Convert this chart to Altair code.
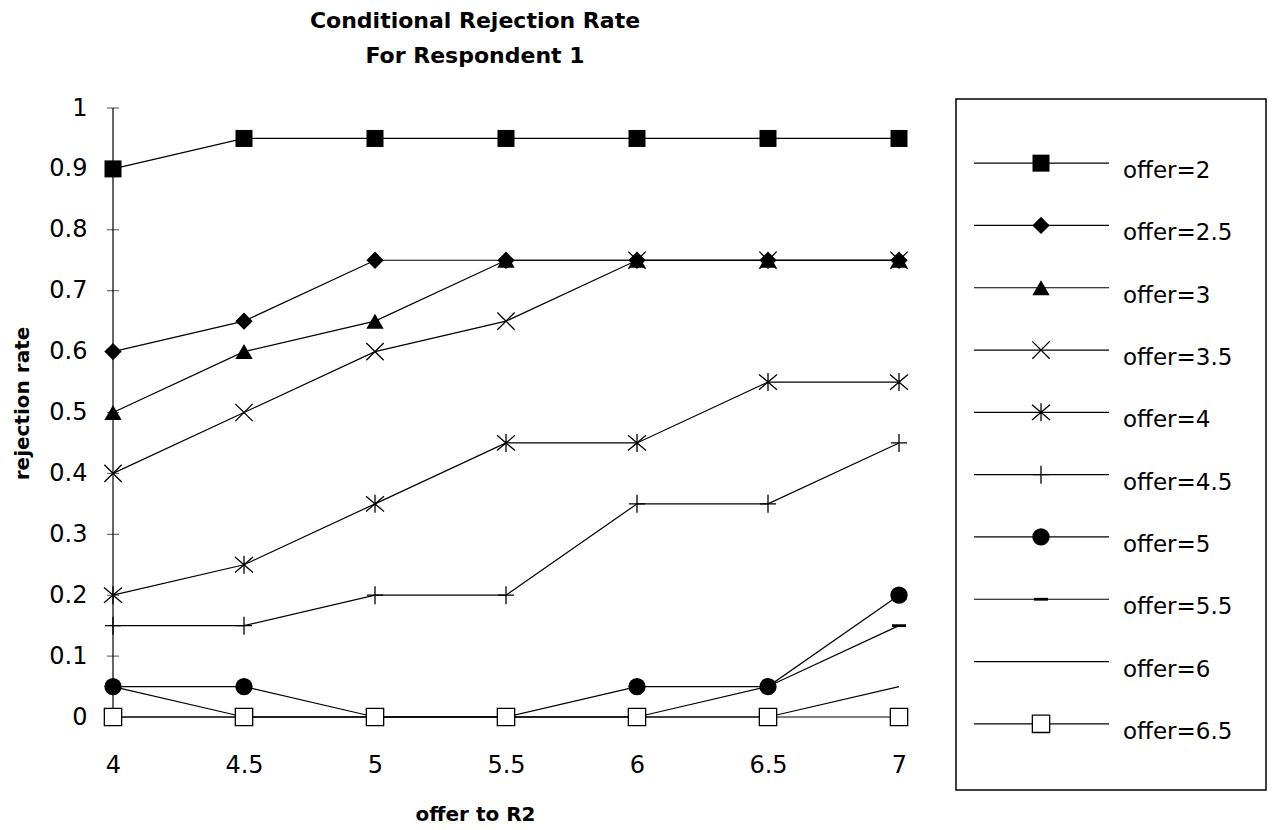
import altair as alt
import pandas as pd

# ---- data ----
x_values = [4, 4.5, 5, 5.5, 6, 6.5, 7]
y_ticks = [0, 0.1, 0.2, 0.3, 0.4, 0.5, 0.6, 0.7, 0.8, 0.9, 1]
offers = ["offer=2", "offer=2.5", "offer=3", "offer=3.5", "offer=4",
          "offer=4.5", "offer=5", "offer=5.5", "offer=6", "offer=6.5"]
offer_2 = [0.9, 0.95, 0.95, 0.95, 0.95, 0.95, 0.95]
offer_2_5 = [0.6, 0.65, 0.75, 0.75, 0.75, 0.75, 0.75]
offer_3 = [0.5, 0.6, 0.65, 0.75, 0.75, 0.75, 0.75]
offer_3_5 = [0.4, 0.5, 0.6, 0.65, 0.75, 0.75, 0.75]
offer_4 = [0.2, 0.25, 0.35, 0.45, 0.45, 0.55, 0.55]
offer_4_5 = [0.15, 0.15, 0.2, 0.2, 0.35, 0.35, 0.45]
offer_5 = [0.05, 0.05, 0, 0, 0.05, 0.05, 0.2]
offer_5_5 = [0.05, 0, 0, 0, 0, 0.05, 0.15]
offer_6 = [0, 0, 0, 0, 0, 0, 0.05]
offer_6_5 = [0, 0, 0, 0, 0, 0, 0]
series = [offer_2, offer_2_5, offer_3, offer_3_5, offer_4,
          offer_4_5, offer_5, offer_5_5, offer_6, offer_6_5]

rows = []
for name, vals in zip(offers, series):
    for xv, v in zip(x_values, vals):
        rows.append({"x": xv, "rate": v, "offer": name})
df = pd.DataFrame(rows)
ticks_df = pd.DataFrame({"x": [x_values[0]] * len(y_ticks), "rate": y_ticks})
axis_df = pd.DataFrame({"x": [x_values[0]], "rate": [y_ticks[0]], "rate2": [y_ticks[-1]]})
legend_df = pd.DataFrame({"offer": offers})

# ---- marker styles ----
X_PATH = "M-1,-1L1,1M-1,1L1,-1"
AST_PATH = "M-1,-0.85L1,0.85M-1,0.85L1,-0.85M0,-1L0,1"
PLUS_PATH = "M-0.9,0L0.9,0M0,-1L0,1"
DASH_PATH = "M-1,-0.2L1,-0.2L1,0.2L-1,0.2Z"
styles = {
    "offer=2": dict(shape="square", size=289, filled=True, color="black"),
    "offer=2.5": dict(shape="diamond", size=300, filled=True, color="black"),
    "offer=3": dict(shape="triangle-up", size=300, filled=True, color="black"),
    "offer=3.5": dict(shape=X_PATH, size=300, filled=False, color="black", strokeWidth=1.3),
    "offer=4": dict(shape=AST_PATH, size=324, filled=False, color="black", strokeWidth=1.3),
    "offer=4.5": dict(shape=PLUS_PATH, size=324, filled=False, color="black", strokeWidth=1.3),
    "offer=5": dict(shape="circle", size=300, filled=True, color="black"),
    "offer=5.5": dict(shape=DASH_PATH, size=196, filled=True, color="black"),
    "offer=6.5": dict(shape="square", size=300, filled=True, fill="white",
                      stroke="black", strokeWidth=1.3),
}

TICK_FONT = "DejaVu Sans"
PLOT_W, PLOT_H = 786, 618
Y_TOP = 1.01478  # a little headroom so the legend box can start above y = 1

x_enc = alt.X("x:Q",
              scale=alt.Scale(domain=[4, 7], nice=False, zero=False),
              axis=alt.Axis(values=x_values, format="~g", ticks=False, grid=False,
                            domain=False,
                            labelFont=TICK_FONT, labelFontSize=24, labelColor="black",
                            labelPadding=36, labelFlush=False,
                            title="offer to R2", titleFont=TICK_FONT, titleFontSize=20,
                            titleFontWeight="bold", titleColor="black",
                            titleX=362, titleY=97, titleBaseline="middle"))
y_enc = alt.Y("rate:Q",
              scale=alt.Scale(domain=[0, Y_TOP], nice=False),
              axis=alt.Axis(values=y_ticks, format="~g", ticks=False, grid=False,
                            domain=False,
                            labelFont=TICK_FONT, labelFontSize=24, labelColor="black",
                            labelPadding=26, labelFlush=False,
                            title="rejection rate", titleFont=TICK_FONT, titleFontSize=20,
                            titleFontWeight="bold", titleColor="black", titlePadding=16,
                            titleY=304))

base = alt.Chart(df)
lines = base.mark_line(color="black", strokeWidth=1.2).encode(
    x=x_enc, y=y_enc, detail="offer:N")
axis_line = alt.Chart(axis_df).mark_rule(color="black", strokeWidth=1.2).encode(
    x=x_enc, y=y_enc, y2="rate2:Q")
axis_ticks = alt.Chart(ticks_df).mark_tick(
    orient="horizontal", size=12, thickness=1, color="black").encode(x=x_enc, y=y_enc)

point_layers = []
for name in offers:
    if name not in styles:
        continue
    st = dict(styles[name])
    point_layers.append(
        base.transform_filter(alt.datum.offer == name)
        .mark_point(opacity=1, **st)
        .encode(x=x_enc, y=y_enc)
    )

main = alt.layer(axis_line, axis_ticks, lines, *point_layers).properties(
    width=PLOT_W, height=PLOT_H)

# ---- legend panel drawn from the same offers ----
LEG_W, LEG_H = 310, 691
y_leg = alt.Y("offer:N", axis=None,
              scale=alt.Scale(type="point", domain=offers, range=[33, 656]))
leg_base = alt.Chart(legend_df)
leg_rules = leg_base.mark_rule(color="black", strokeWidth=1.2).encode(
    y=y_leg, x=alt.value(18), x2=alt.value(153))
leg_text = leg_base.mark_text(
    align="left", baseline="middle", dy=8, font=TICK_FONT, fontSize=23, color="black"
).encode(y=y_leg, x=alt.value(167), text="offer:N")
leg_points = []
for name in offers:
    if name not in styles:
        continue
    st = dict(styles[name])
    leg_points.append(
        leg_base.transform_filter(alt.datum.offer == name)
        .mark_point(opacity=1, **st)
        .encode(y=y_leg, x=alt.value(85))
    )
legend = alt.layer(leg_rules, *leg_points, leg_text).properties(
    width=LEG_W, height=LEG_H,
    view=alt.ViewBackground(stroke="black", strokeWidth=1.5, fill="white"))

chart = alt.hconcat(main, legend, spacing=43).properties(
    title=alt.TitleParams(
        text=["Conditional Rejection Rate", "For Respondent 1"],
        font=TICK_FONT, fontSize=22, fontWeight="bold", color="black",
        anchor="start", align="center", dx=362, lineHeight=35, offset=28,
        frame="group"),
    padding={"left": 12, "top": 9, "right": 5, "bottom": 5},
    background="white",
).configure_view(stroke="transparent")

chart.save("out.html", embed_options={"renderer": "svg", "actions": False})
